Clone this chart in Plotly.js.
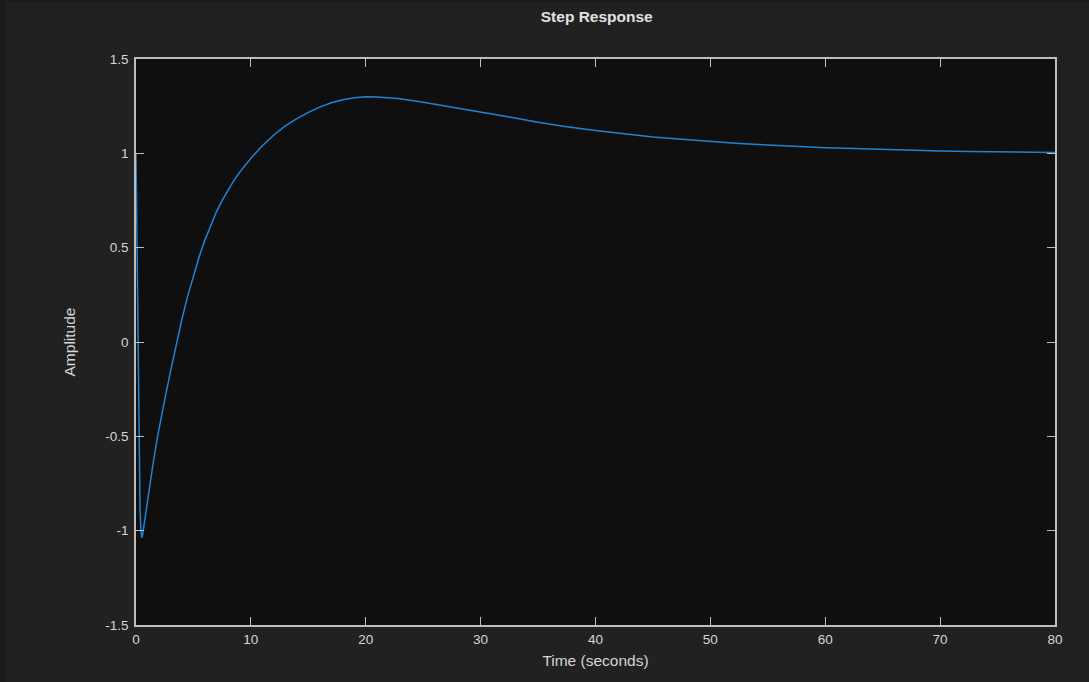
<!DOCTYPE html>
<html>
<head>
<meta charset="utf-8">
<script src="https://cdn.plot.ly/plotly-3.0.1.min.js"></script>
<style>
html,body{margin:0;padding:0;background:#212121;}
#chart{width:1089px;height:682px;}
</style>
</head>
<body>
<div id="chart"></div>
<script>
// Step response samples
var timeSec = [0, 0.03, 0.06, 0.09, 0.12, 0.15, 0.2, 0.25, 0.3, 0.35, 0.42, 0.49, 0.56, 0.64, 0.8, 1.0, 1.22, 1.5, 1.88, 2.0, 2.5, 3.0, 3.5, 4.0, 4.5, 5.0, 5.5, 6.0, 6.5, 7.0, 7.5, 8.0, 8.5, 9.0, 9.5, 10.0, 11.0, 12.0, 13.0, 14.0, 15.0, 16.0, 17.0, 18.0, 19.0, 20.0, 21.0, 22.0, 23.0, 25.0, 27.5, 30.0, 32.5, 35.0, 37.5, 40.0, 42.5, 45.0, 47.5, 50.0, 52.5, 55.0, 57.5, 60.0, 62.5, 65.0, 67.5, 70.0, 72.5, 75.0, 77.5, 80.0];
var amplitude = [1.0, 0.85, 0.66, 0.46, 0.26, 0.07, -0.22, -0.48, -0.72, -0.88, -0.99, -1.037, -1.028, -1.0, -0.93, -0.845, -0.749, -0.64, -0.5, -0.46, -0.305, -0.157, -0.012, 0.122, 0.243, 0.353, 0.452, 0.54, 0.62, 0.69, 0.751, 0.805, 0.854, 0.898, 0.938, 0.974, 1.04, 1.097, 1.145, 1.184, 1.217, 1.245, 1.268, 1.284, 1.295, 1.3, 1.299, 1.295, 1.289, 1.271, 1.246, 1.219, 1.192, 1.165, 1.141, 1.121, 1.103, 1.087, 1.074, 1.062, 1.052, 1.044, 1.036, 1.03, 1.025, 1.02, 1.016, 1.013, 1.01, 1.008, 1.006, 1.004];

var xTickVals = [0, 10, 20, 30, 40, 50, 60, 70, 80];
var xTickText = ['0', '10', '20', '30', '40', '50', '60', '70', '80'];
var yTickVals = [-1.5, -1, -0.5, 0, 0.5, 1, 1.5];
var yTickText = ['-1.5', '-1', '-0.5', '0', '0.5', '1', '1.5'];

var FONT = 'Liberation Sans, Arial, sans-serif';

var trace = {
  x: timeSec,
  y: amplitude,
  type: 'scatter',
  mode: 'lines',
  line: {color: '#1f84d6', width: 1.5, shape: 'linear'},
  hoverinfo: 'x+y'
};

var axisCommon = {
  showgrid: false,
  zeroline: false,
  showline: true,
  linecolor: '#bdbdbd',
  linewidth: 1.5,
  mirror: 'ticks',
  ticks: 'inside',
  ticklen: 8,
  tickwidth: 1.2,
  tickcolor: '#bdbdbd',
  tickmode: 'array',
  tickfont: {family: FONT, size: 13.5, color: '#d6d6d6'}
};

var layout = {
  width: 1089,
  height: 682,
  paper_bgcolor: '#212121',
  plot_bgcolor: '#0f0f0f',
  margin: {l: 136, r: 34, t: 59, b: 57},
  showlegend: false,
  title: {
    text: '<b>Step Response</b>',
    x: 0.548, xanchor: 'center',
    y: 0.976, yanchor: 'middle',
    font: {family: FONT, size: 15.5, color: '#e2e2e2'}
  },
  xaxis: Object.assign({}, axisCommon, {
    range: [0, 80],
    tickvals: xTickVals,
    ticktext: xTickText,
    ticklabelstandoff: 1,
    title: {text: 'Time (seconds)', standoff: 9,
      font: {family: FONT, size: 15.5, color: '#d6d6d6'}}
  }),
  yaxis: Object.assign({}, axisCommon, {
    range: [-1.5, 1.5],
    tickvals: yTickVals,
    ticktext: yTickText,
    ticklabelstandoff: 3,
    title: {text: 'Amplitude', standoff: 26,
      font: {family: FONT, size: 15.5, color: '#d6d6d6'}}
  }),
  shapes: [
    {type: 'rect', xref: 'paper', yref: 'paper', layer: 'below', line: {width: 0},
     fillcolor: '#1a1a1a', x0: -0.16, x1: -0.1415, y0: -0.11, y1: 1.11},
    {type: 'rect', xref: 'paper', yref: 'paper', layer: 'below', line: {width: 0},
     fillcolor: '#1a1a1a', x0: -0.16, x1: 1.05, y0: 1.1007, y1: 1.11}
  ]
};

Plotly.newPlot('chart', [trace], layout, {displayModeBar: false, responsive: false});
</script>
</body>
</html>
